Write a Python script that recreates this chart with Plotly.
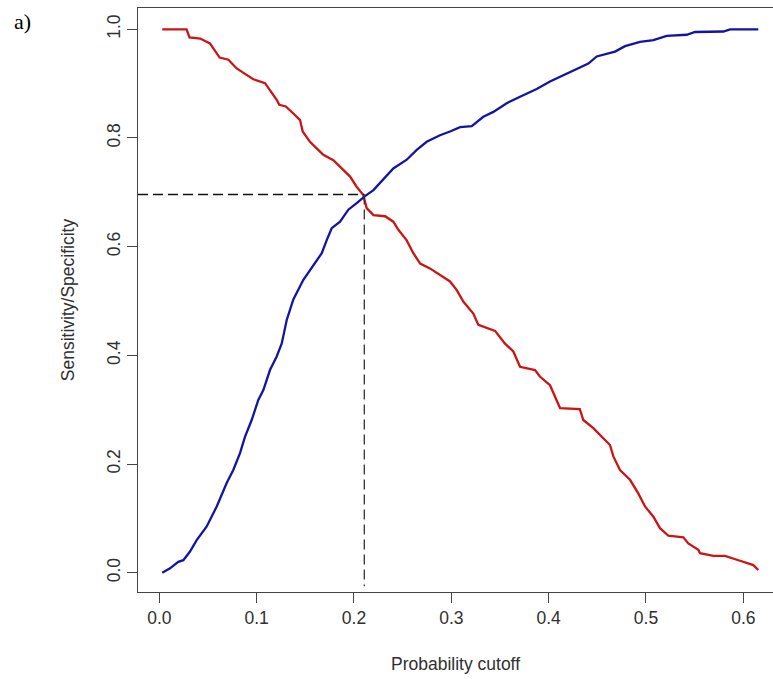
import plotly.graph_objects as go

# Sensitivity (blue, increasing)
sens_x = [0.003, 0.011, 0.0195, 0.0247, 0.0315, 0.0384, 0.0487, 0.059, 0.0692, 0.076,
          0.0829, 0.088, 0.0949, 0.1017, 0.1069, 0.1137, 0.1206, 0.1258, 0.1309, 0.1377,
          0.148, 0.1582, 0.1669, 0.172, 0.1771, 0.1857, 0.1942, 0.2028, 0.2113, 0.220,
          0.2301, 0.2404, 0.2542, 0.2645, 0.2747, 0.2884, 0.2987, 0.309, 0.321, 0.3329,
          0.3432, 0.3569, 0.3706, 0.3877, 0.4014, 0.4151, 0.4288, 0.4408, 0.4494, 0.4682,
          0.4785, 0.4939, 0.5076, 0.5213, 0.5419, 0.5504, 0.5795, 0.5864, 0.6154]
sens_y = [0.0, 0.008, 0.020, 0.023, 0.039, 0.060, 0.085, 0.122, 0.165, 0.189,
          0.220, 0.250, 0.281, 0.318, 0.336, 0.373, 0.398, 0.422, 0.465, 0.503,
          0.539, 0.566, 0.588, 0.612, 0.634, 0.646, 0.668, 0.680, 0.693, 0.704,
          0.723, 0.744, 0.760, 0.778, 0.793, 0.805, 0.812, 0.820, 0.822, 0.839,
          0.848, 0.864, 0.876, 0.890, 0.904, 0.916, 0.928, 0.937, 0.950, 0.959,
          0.969, 0.977, 0.980, 0.988, 0.990, 0.995, 0.996, 1.0, 1.0]

# Specificity (red, decreasing)
spec_x = [0.003, 0.028, 0.031, 0.042, 0.052, 0.057, 0.062, 0.071, 0.0795, 0.088,
          0.0966, 0.1086, 0.1137, 0.1206, 0.1233, 0.130, 0.1377, 0.1446, 0.1473, 0.1548,
          0.1617, 0.1685, 0.1788, 0.189, 0.196, 0.2028, 0.2096, 0.213, 0.220, 0.232,
          0.2404, 0.2456, 0.254, 0.261, 0.268, 0.278, 0.288, 0.2987, 0.3056, 0.3123,
          0.3226, 0.3278, 0.345, 0.355, 0.3637, 0.3706, 0.386, 0.391, 0.4014, 0.4066,
          0.4117, 0.432, 0.4356, 0.4459, 0.4562, 0.463, 0.4665, 0.4733, 0.4836, 0.4921,
          0.499, 0.5076, 0.5144, 0.523, 0.5384, 0.5435, 0.5538, 0.5555, 0.5692, 0.5812,
          0.5966, 0.6103, 0.6154]
spec_y = [1.0, 1.0, 0.985, 0.983, 0.974, 0.962, 0.948, 0.944, 0.928, 0.918,
          0.908, 0.901, 0.888, 0.870, 0.861, 0.858, 0.845, 0.833, 0.812, 0.793,
          0.781, 0.769, 0.759, 0.741, 0.729, 0.710, 0.695, 0.671, 0.658, 0.656,
          0.646, 0.631, 0.612, 0.588, 0.569, 0.560, 0.548, 0.536, 0.520, 0.499,
          0.477, 0.456, 0.445, 0.422, 0.407, 0.379, 0.373, 0.361, 0.345, 0.324,
          0.303, 0.301, 0.281, 0.266, 0.247, 0.235, 0.214, 0.189, 0.171, 0.146,
          0.122, 0.103, 0.082, 0.068, 0.065, 0.054, 0.042, 0.036, 0.031, 0.031,
          0.022, 0.014, 0.005]

x_ticks = [0.0, 0.1, 0.2, 0.3, 0.4, 0.5, 0.6]
x_tick_labels = ["0.0", "0.1", "0.2", "0.3", "0.4", "0.5", "0.6"]
y_ticks = [0.0, 0.2, 0.4, 0.6, 0.8, 1.0]
y_tick_labels = ["0.0", "0.2", "0.4", "0.6", "0.8", "1.0"]

cutoff = 0.2106
cross_value = 0.696

x_range = [-0.0219, 0.6305]
y_range = [-0.0355, 1.0392]

FONT = "Liberation Sans, Arial, sans-serif"
TXT = "#303030"

fig = go.Figure()
fig.add_trace(go.Scatter(x=spec_x, y=spec_y, mode="lines",
                         line=dict(color="#CC1414", width=2.3), showlegend=False))
fig.add_trace(go.Scatter(x=sens_x, y=sens_y, mode="lines",
                         line=dict(color="#1414A4", width=2.3), showlegend=False))
# dashed guide lines
fig.add_trace(go.Scatter(x=[x_range[0], cutoff], y=[cross_value, cross_value], mode="lines",
                         line=dict(color="#111111", width=1.3, dash="10px,5px"), showlegend=False))
fig.add_trace(go.Scatter(x=[cutoff, cutoff], y=[cross_value, -0.025], mode="lines",
                         line=dict(color="#333333", width=1.3, dash="10px,5px"), showlegend=False))

fig.update_layout(
    width=773, height=679,
    margin=dict(l=138, r=0, t=8, b=87),
    paper_bgcolor="white", plot_bgcolor="white",
    font=dict(family=FONT, size=17, color=TXT),
    xaxis=dict(range=x_range, tickvals=x_ticks, ticktext=x_tick_labels,
               showgrid=False, zeroline=False, showline=True, mirror=True,
               linecolor="#444444", linewidth=1.2, ticks="outside", ticklen=10,
               tickcolor="#444444", tickwidth=1.2,
               tickfont=dict(family=FONT, size=17.5, color=TXT),
               title=dict(text="Probability cutoff", font=dict(family=FONT, size=17.5, color=TXT),
                          standoff=30)),
    yaxis=dict(range=y_range, tickvals=y_ticks, ticktext=y_tick_labels,
               showgrid=False, zeroline=False, showline=True, mirror=False,
               linecolor="#444444", linewidth=1.2, ticks="outside", ticklen=10,
               tickcolor="#444444", tickwidth=1.2, tickangle=-90,
               tickfont=dict(family=FONT, size=17.5, color=TXT),
               title=dict(text="Sensitivity/Specificity", font=dict(family=FONT, size=17.5, color=TXT),
                          standoff=24)),
    annotations=[dict(text="a)", xref="paper", yref="paper",
                      x=(12 - 138) / 635, y=(592 - 21) / 584,
                      xanchor="left", yanchor="middle", showarrow=False,
                      font=dict(family="Liberation Serif, Times New Roman, serif", size=22, color="black"))],
)

fig.write_html("out.html")
